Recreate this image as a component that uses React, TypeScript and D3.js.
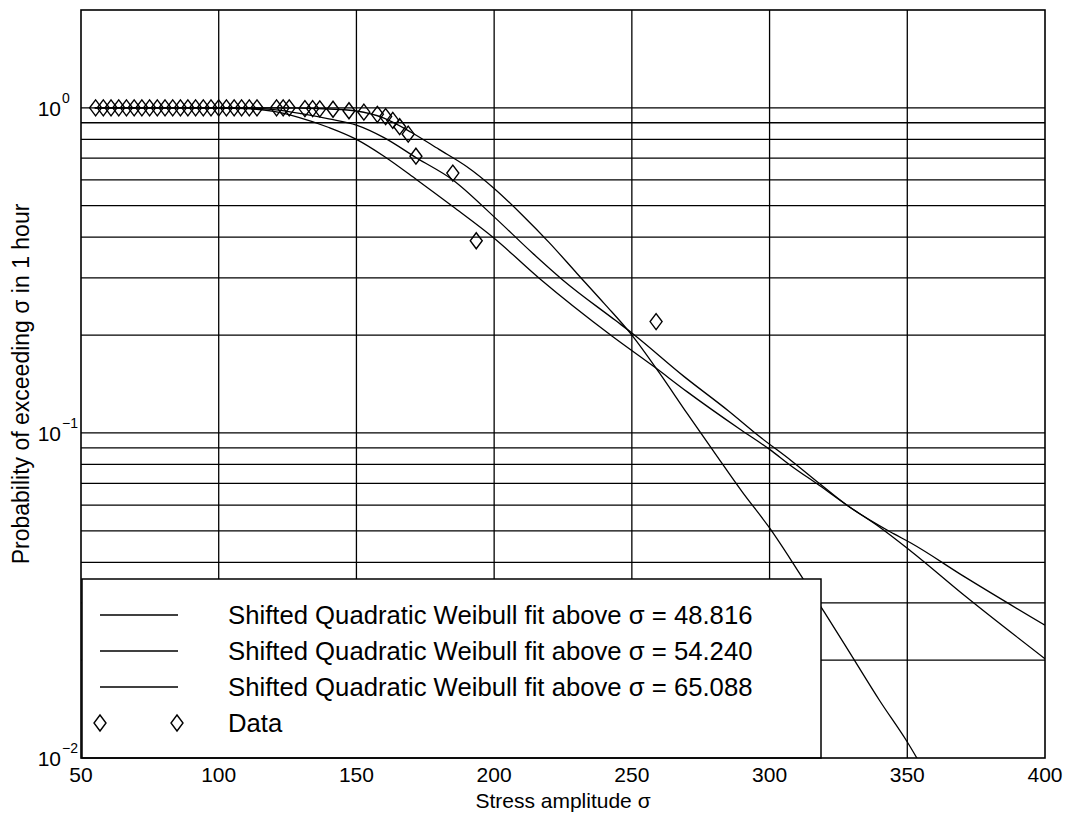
import React, { useRef, useEffect } from 'react';
import * as d3 from 'd3';

// axis ticks
const xTicks = [50, 100, 150, 200, 250, 300, 350, 400];
const yDecades = [0.01, 0.1, 1];
const yDecadeExp = ['\u22122', '\u22121', '0'];
const yMinorGrid = [0.02, 0.03, 0.04, 0.05, 0.06, 0.07, 0.08, 0.09, 0.2, 0.3, 0.4, 0.5, 0.6, 0.7, 0.8, 0.9];

// observed exceedance probabilities
const dataSigma = [55.3, 58.1, 60.9, 63.7, 66.5, 69.3, 72.1, 74.9, 77.7, 80.5, 83.3, 86.1, 88.8, 91.6, 94.4, 97.2,
  100.0, 102.8, 105.6, 108.3, 111.1, 113.9, 121.0, 123.4, 125.6, 131.3, 134.1, 136.7, 141.5, 147.3, 152.7,
  157.6, 160.6, 163.2, 165.7, 168.8, 171.6, 185.0, 193.5, 258.8];
const dataProb = [1, 1, 1, 1, 1, 1, 1, 1, 1, 1, 1, 1, 1, 1, 1, 1,
  1, 1, 1, 1, 1, 1, 1, 1, 1, 0.995, 0.995, 0.993, 0.99, 0.98, 0.97,
  0.955, 0.94, 0.915, 0.875, 0.83, 0.71, 0.63, 0.39, 0.22];

// fitted curves
const fit1Sigma = [55, 100, 110, 120, 129, 140, 150, 160, 172, 185, 200, 217, 243, 258, 270, 289, 300, 308, 318, 328, 339, 351, 371, 400];
const fit1Prob = [1, 0.999, 0.995, 0.975, 0.935, 0.87, 0.8, 0.71, 0.6, 0.497, 0.397, 0.296, 0.198, 0.16, 0.134, 0.103, 0.089, 0.079, 0.069, 0.06, 0.052, 0.0435, 0.0315, 0.0202];

const fit2Sigma = [55, 100, 110, 120, 130, 140, 150, 160, 172, 185, 200, 214, 225, 244, 250, 269, 285, 296, 308, 318, 328, 345, 351, 371, 400];
const fit2Prob = [1, 1, 0.998, 0.988, 0.96, 0.925, 0.885, 0.81, 0.7, 0.6, 0.462, 0.357, 0.295, 0.222, 0.203, 0.149, 0.117, 0.098, 0.082, 0.07, 0.06, 0.049, 0.046, 0.036, 0.0256];

const fit3Sigma = [55, 120, 130, 140, 150, 160, 170, 180, 190, 200, 210, 220, 230, 240, 250, 260, 270, 280, 290, 300, 310, 320, 330, 340, 350, 360];
const fit3Prob = [1, 1, 0.998, 0.992, 0.978, 0.93, 0.84, 0.745, 0.66, 0.565, 0.47, 0.385, 0.31, 0.25, 0.2, 0.153, 0.115, 0.087, 0.066, 0.051, 0.038, 0.028, 0.0205, 0.015, 0.0112, 0.008];

const legendLabels = [
  'Shifted Quadratic Weibull fit above σ = 48.816',
  'Shifted Quadratic Weibull fit above σ = 54.240',
  'Shifted Quadratic Weibull fit above σ = 65.088',
  'Data',
];

const FONT = '"Liberation Sans", Arial, Helvetica, sans-serif';

const App = () => {
  const svgRef = useRef<SVGSVGElement>(null);

  useEffect(() => {
    const width = 1070;
    const height = 818;
    const left = 81, right = 1045, top = 10, bottom = 758;

    const x = d3.scaleLinear().domain([50, 400]).range([left, right]);
    const y = d3.scaleLog().domain([0.01, 2]).range([bottom, top]);

    const svg = d3.select(svgRef.current);
    svg.selectAll('*').remove();
    svg.attr('width', width).attr('height', height);

    svg.append('rect').attr('width', width).attr('height', height).attr('fill', '#fff');

    svg.append('defs').append('clipPath').attr('id', 'plotClip')
      .append('rect')
      .attr('x', left).attr('y', top)
      .attr('width', right - left).attr('height', bottom - top);

    // grid
    const grid = svg.append('g').attr('stroke', '#000').attr('stroke-width', 1.3);
    grid.selectAll('line.v')
      .data(xTicks.slice(1, -1))
      .join('line')
      .attr('class', 'v')
      .attr('x1', d => x(d)).attr('x2', d => x(d))
      .attr('y1', top).attr('y2', bottom);
    grid.selectAll('line.h')
      .data([...yDecades.slice(1), ...yMinorGrid])
      .join('line')
      .attr('class', 'h')
      .attr('x1', left).attr('x2', right)
      .attr('y1', d => y(d)).attr('y2', d => y(d));

    // fit curves
    const lineGen = d3.line<[number, number]>()
      .x(d => x(d[0]))
      .y(d => y(d[1]))
      .curve(d3.curveMonotoneX);

    const fits = [
      d3.zip(fit1Sigma, fit1Prob),
      d3.zip(fit2Sigma, fit2Prob),
      d3.zip(fit3Sigma, fit3Prob),
    ] as [number, number][][];

    const curves = svg.append('g').attr('clip-path', 'url(#plotClip)');
    curves.selectAll('path')
      .data(fits)
      .join('path')
      .attr('d', d => lineGen(d))
      .attr('fill', 'none')
      .attr('stroke', '#000')
      .attr('stroke-width', 1.3);

    // data markers
    const diamond = 'M0,-8L6,0L0,8L-6,0Z';
    curves.append('g')
      .selectAll('path')
      .data(d3.zip(dataSigma, dataProb))
      .join('path')
      .attr('d', diamond)
      .attr('transform', d => `translate(${x(d[0])},${y(d[1])})`)
      .attr('fill', 'none')
      .attr('stroke', '#000')
      .attr('stroke-width', 1.4);

    // legend
    const legX = 82, legY = 579, legW = 739, legH = bottom - legY;
    const legend = svg.append('g');
    legend.append('rect')
      .attr('x', legX).attr('y', legY)
      .attr('width', legW).attr('height', legH)
      .attr('fill', '#fff')
      .attr('stroke', '#000')
      .attr('stroke-width', 1.5);
    const rows = legend.selectAll('g.row')
      .data(legendLabels)
      .join('g')
      .attr('class', 'row')
      .attr('transform', (d, i) => `translate(0,${615 + i * 36})`);
    rows.filter((d, i) => i < 3).append('line')
      .attr('x1', 100).attr('x2', 178)
      .attr('stroke', '#000').attr('stroke-width', 1.3);
    rows.filter((d, i) => i === 3).selectAll('path')
      .data([100, 177])
      .join('path')
      .attr('d', diamond)
      .attr('transform', d => `translate(${d},0)`)
      .attr('fill', 'none')
      .attr('stroke', '#000')
      .attr('stroke-width', 1.4);
    rows.append('text')
      .attr('x', 228).attr('y', 9)
      .attr('font-family', FONT)
      .attr('font-size', 25.7)
      .attr('fill', '#000')
      .text(d => d);

    // axes box
    svg.append('rect')
      .attr('x', left).attr('y', top)
      .attr('width', right - left).attr('height', bottom - top)
      .attr('fill', 'none')
      .attr('stroke', '#000')
      .attr('stroke-width', 1.6);

    // x tick labels
    svg.append('g').selectAll('text')
      .data(xTicks)
      .join('text')
      .attr('x', d => x(d))
      .attr('y', 782)
      .attr('text-anchor', 'middle')
      .attr('font-family', FONT)
      .attr('font-size', 21)
      .text(d => d);

    // y tick labels 10^n
    const yl = svg.append('g').selectAll('g')
      .data(yDecades)
      .join('g')
      .attr('transform', d => `translate(0,${y(d)})`);
    yl.append('text')
      .attr('x', 61).attr('y', 8)
      .attr('text-anchor', 'end')
      .attr('font-family', FONT)
      .attr('font-size', 21)
      .text('10');
    yl.append('text')
      .attr('x', 62).attr('y', -5)
      .attr('font-family', FONT)
      .attr('font-size', 14)
      .text((d, i) => yDecadeExp[i]);

    // axis labels
    svg.append('text')
      .attr('x', (left + right) / 2)
      .attr('y', 808)
      .attr('text-anchor', 'middle')
      .attr('font-family', FONT)
      .attr('font-size', 21)
      .text('Stress amplitude σ');

    svg.append('text')
      .attr('transform', `translate(29,${(top + bottom) / 2}) rotate(-90)`)
      .attr('text-anchor', 'middle')
      .attr('font-family', FONT)
      .attr('font-size', 23)
      .text('Probability of exceeding σ in 1 hour');
  }, []);

  return (
    <svg ref={svgRef} style={{ position: 'absolute', left: 0, top: 0, display: 'block' }} />
  );
};

export default App;
